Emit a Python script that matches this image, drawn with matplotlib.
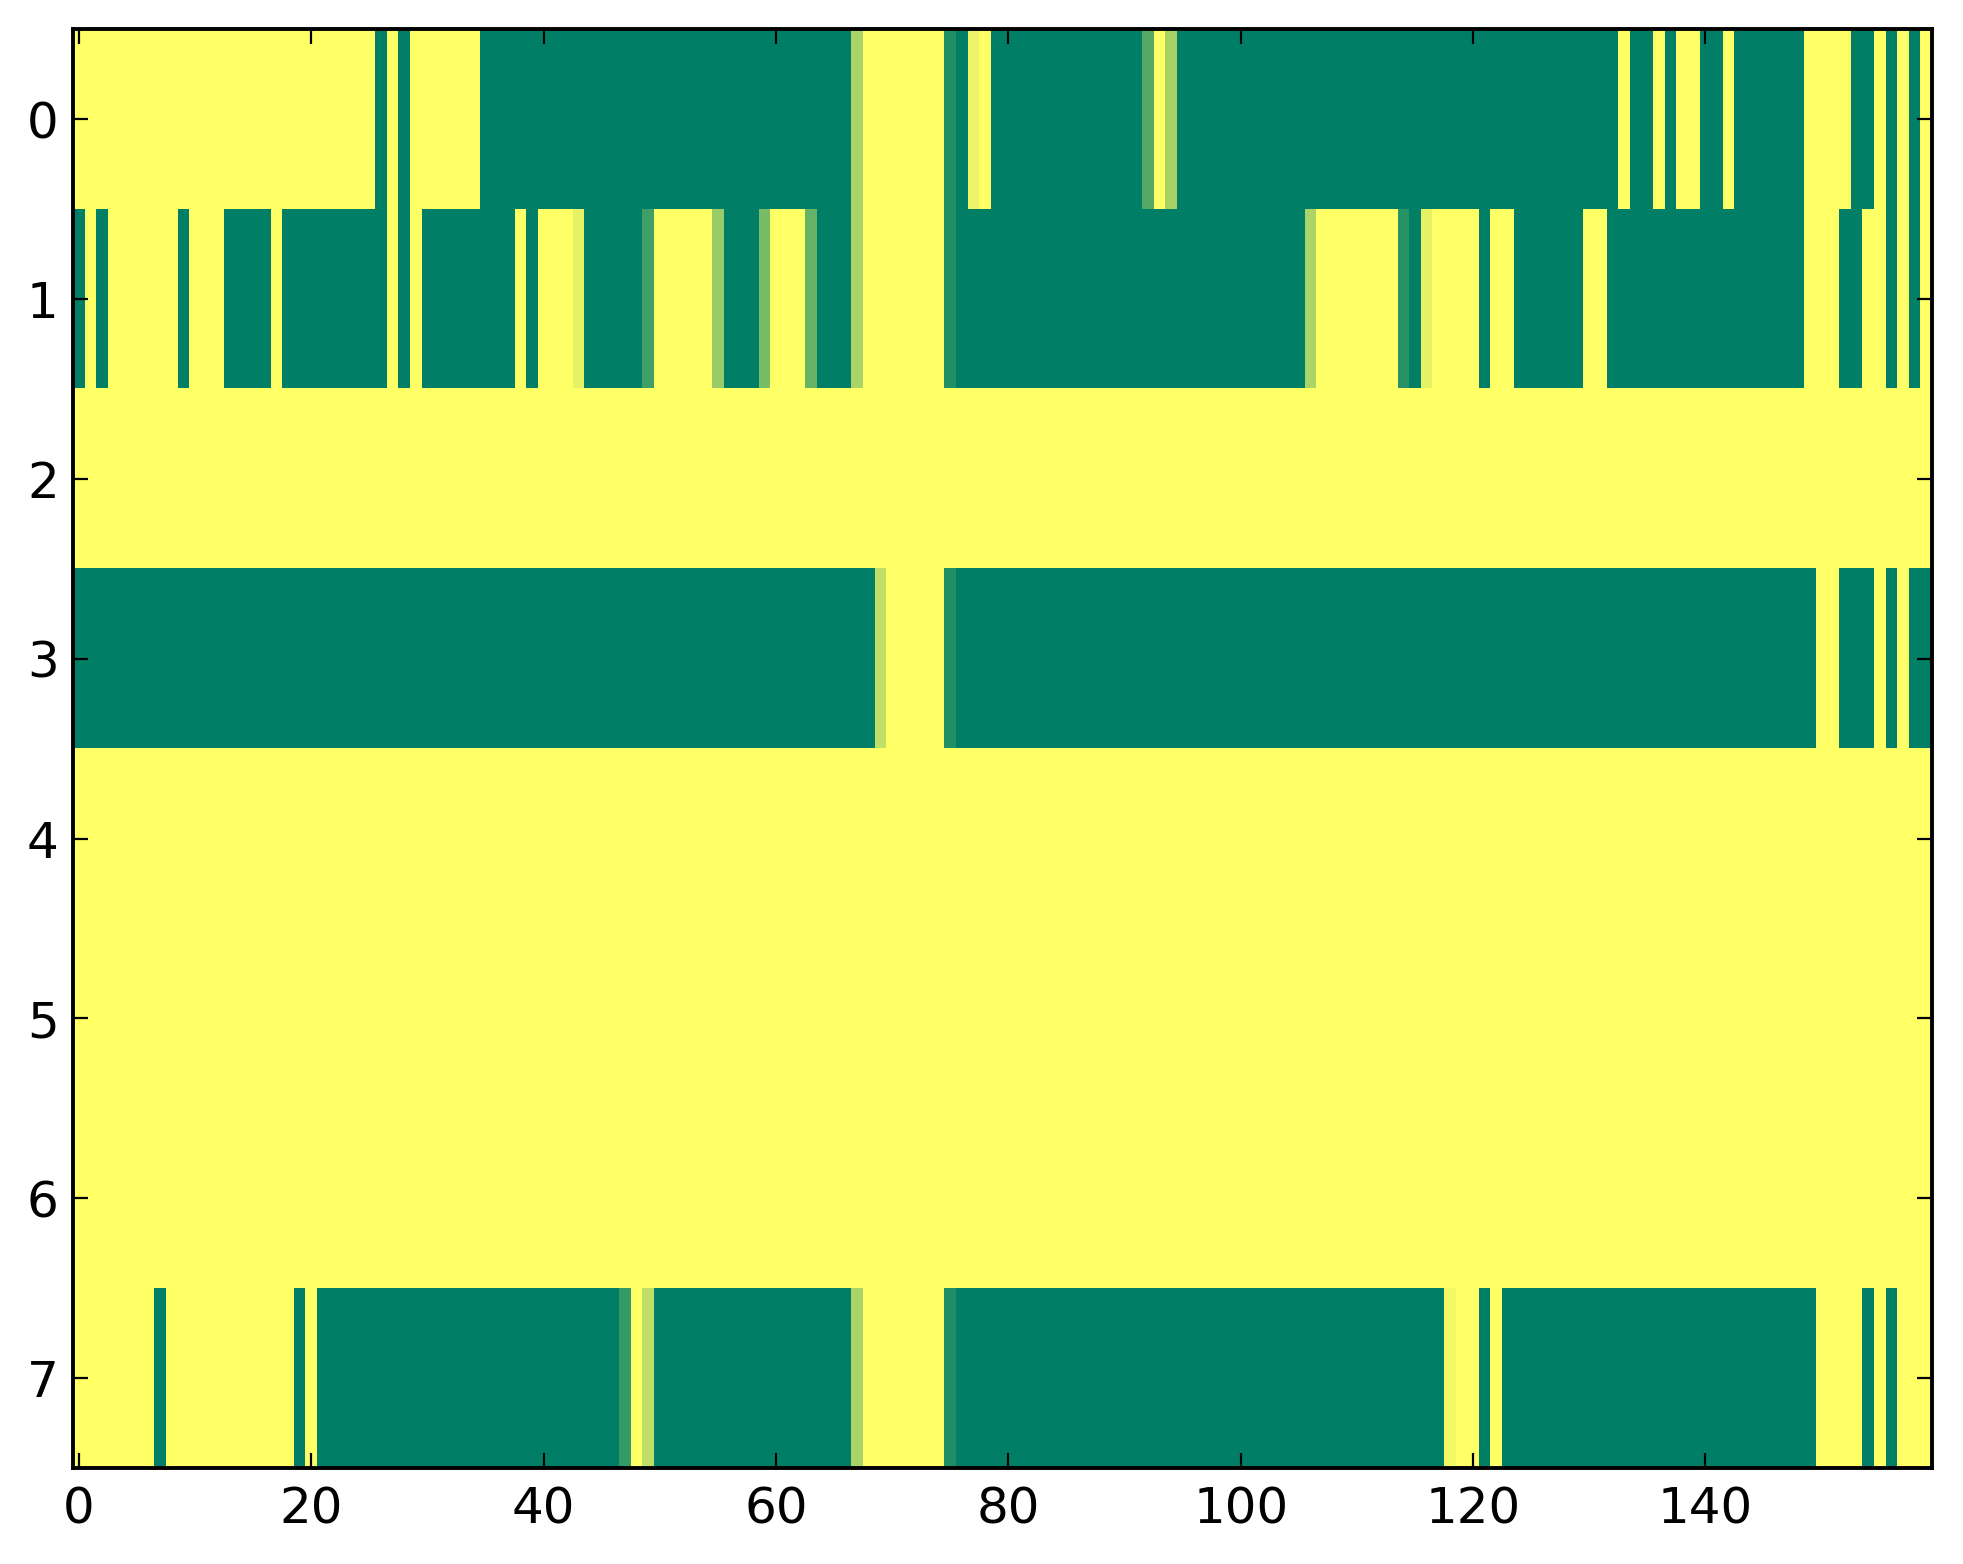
import numpy as np
import matplotlib
matplotlib.use("Agg")
import matplotlib.pyplot as plt

row0 = [1,1,1,1,1,1,1,1,1,1,1,1,1,1,1,1,1,1,1,1,
        1,1,1,1,1,1,0,1,0,1,1,1,1,1,1,0,0,0,0,0,
        0,0,0,0,0,0,0,0,0,0,0,0,0,0,0,0,0,0,0,0,
        0,0,0,0,0,0,0,.67,1,1,1,1,1,1,1,.13,0,.92,1,0,
        0,0,0,0,0,0,0,0,0,0,0,0,.33,1,.65,0,0,0,0,0,
        0,0,0,0,0,0,0,0,0,0,0,0,0,0,0,0,0,0,0,0,
        0,0,0,0,0,0,0,0,0,0,0,0,0,1,0,0,1,0,1,1,
        0,0,1,0,0,0,0,0,0,1,1,1,1,0,0,1,0,1,0,1]
row1 = [0,1,0,1,1,1,1,1,1,0,1,1,1,0,0,0,0,1,0,0,
        0,0,0,0,0,0,0,1,0,1,0,0,0,0,0,0,0,0,1,0,
        1,1,1,.9,0,0,0,0,0,.25,1,1,1,1,1,.6,0,0,0,.48,
        1,1,1,.4,0,0,0,.67,1,1,1,1,1,1,1,.13,0,0,0,0,
        0,0,0,0,0,0,0,0,0,0,0,0,0,0,0,0,0,0,0,0,
        0,0,0,0,0,0,.67,1,1,1,1,1,1,1,.15,0,.9,1,1,1,
        1,0,1,1,0,0,0,0,0,0,1,1,0,0,0,0,0,0,0,0,
        0,0,0,0,0,0,0,0,0,1,1,1,0,0,1,1,0,1,0,1]
row2 = [1,1,1,1,1,1,1,1,1,1,1,1,1,1,1,1,1,1,1,1,
        1,1,1,1,1,1,1,1,1,1,1,1,1,1,1,1,1,1,1,1,
        1,1,1,1,1,1,1,1,1,1,1,1,1,1,1,1,1,1,1,1,
        1,1,1,1,1,1,1,1,1,1,1,1,1,1,1,1,1,1,1,1,
        1,1,1,1,1,1,1,1,1,1,1,1,1,1,1,1,1,1,1,1,
        1,1,1,1,1,1,1,1,1,1,1,1,1,1,1,1,1,1,1,1,
        1,1,1,1,1,1,1,1,1,1,1,1,1,1,1,1,1,1,1,1,
        1,1,1,1,1,1,1,1,1,1,1,1,1,1,1,1,1,1,1,1]
row3 = [0,0,0,0,0,0,0,0,0,0,0,0,0,0,0,0,0,0,0,0,
        0,0,0,0,0,0,0,0,0,0,0,0,0,0,0,0,0,0,0,0,
        0,0,0,0,0,0,0,0,0,0,0,0,0,0,0,0,0,0,0,0,
        0,0,0,0,0,0,0,0,0,.75,1,1,1,1,1,.13,0,0,0,0,
        0,0,0,0,0,0,0,0,0,0,0,0,0,0,0,0,0,0,0,0,
        0,0,0,0,0,0,0,0,0,0,0,0,0,0,0,0,0,0,0,0,
        0,0,0,0,0,0,0,0,0,0,0,0,0,0,0,0,0,0,0,0,
        0,0,0,0,0,0,0,0,0,0,1,1,0,0,0,1,0,1,0,0]
row4 = list(row2)
row5 = list(row2)
row6 = list(row2)
row7 = [1,1,1,1,1,1,1,0,1,1,1,1,1,1,1,1,1,1,1,0,
        1,0,0,0,0,0,0,0,0,0,0,0,0,0,0,0,0,0,0,0,
        0,0,0,0,0,0,0,.2,1,.75,0,0,0,0,0,0,0,0,0,0,
        0,0,0,0,0,0,0,.67,1,1,1,1,1,1,1,.12,0,0,0,0,
        0,0,0,0,0,0,0,0,0,0,0,0,0,0,0,0,0,0,0,0,
        0,0,0,0,0,0,0,0,0,0,0,0,0,0,0,0,0,0,.95,1,
        1,0,1,0,0,0,0,0,0,0,0,0,0,0,0,0,0,0,0,0,
        0,0,0,0,0,0,0,0,0,0,1,1,1,1,0,1,0,1,1,1]

xticks = [0, 20, 40, 60, 80, 100, 120, 140]
yticks = [0, 1, 2, 3, 4, 5, 6, 7]

data = np.array([row0, row1, row2, row3, row4, row5, row6, row7], dtype=float)

plt.rcParams['font.family'] = ['DejaVu Sans']
fig = plt.figure(figsize=(9.815, 7.82), dpi=200, facecolor='white')
ax = fig.add_axes([0.0373, 0.0614, 0.9469, 0.9199])
ax.imshow(data, cmap='summer', aspect='auto', interpolation='nearest',
          vmin=0, vmax=1)
ax.set_xticks(xticks)
ax.set_yticks(yticks)
ax.set_xlim(-0.5, data.shape[1] - 0.5)
ax.set_ylim(data.shape[0] - 0.5, -0.5)
ax.tick_params(direction='in', top=True, right=True, length=5.3, width=0.8,
               labelsize=18, colors='black')
ax.tick_params(axis='x', pad=6.3)
ax.tick_params(axis='y', pad=5.2)
for s in ax.spines.values():
    s.set_linewidth(1.4)
    s.set_color('black')
fig.savefig('out.png', dpi=200, facecolor='white')
